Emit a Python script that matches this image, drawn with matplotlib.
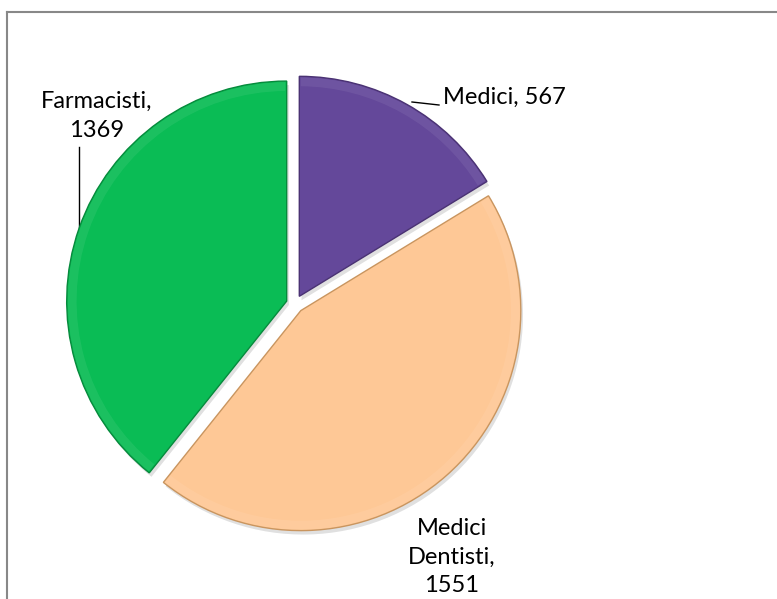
import numpy as np
import matplotlib.pyplot as plt
from matplotlib.patches import Wedge
from matplotlib.lines import Line2D

# dati
categorie = ["Medici", "Medici\nDentisti", "Farmacisti"]
valori = [567, 1551, 1369]
colori = ["#64489A", "#FEC896", "#0ABC55"]
bordi = ["#4A3273", "#C9955F", "#068A3C"]

plt.rcParams['font.family'] = ['Lato', 'DejaVu Sans']

W, H = 777, 599
cx, cy, R = 295, 304, 220   # centro e raggio della torta in pixel


def px(x, y):
    # pixel (origine in alto a sinistra) -> coordinate dati (raggio = 1)
    return (x - cx) / R, (cy - y) / R


fig = plt.figure(figsize=(W / 100, H / 100), dpi=100)
ax = fig.add_axes([0, 0, 1, 1])

wedges, _ = ax.pie(valori, startangle=90, counterclock=False,
                   explode=[0.04] * 3, colors=colori, radius=1,
                   wedgeprops=dict(linewidth=1.0))
for w, e in zip(wedges, bordi):
    w.set_edgecolor(e)
    w.set_zorder(3)
    # ombra
    ombra = Wedge((w.center[0] + 0.01, w.center[1] - 0.018), w.r,
                  w.theta1, w.theta2, facecolor="#000000", alpha=0.12,
                  linewidth=0, zorder=2)
    ax.add_patch(ombra)
    # leggero effetto smussato sul bordo
    inner = Wedge(w.center, w.r * 0.995, w.theta1 + 0.4, w.theta2 - 0.4,
                  width=w.r * 0.04, facecolor="white", alpha=0.07,
                  linewidth=0, zorder=4)
    ax.add_patch(inner)

ax.set_xlim(-cx / R, (W - cx) / R)
ax.set_ylim((cy - H) / R, cy / R)
ax.set_aspect("auto")
ax.axis("off")

fs = 17
ls = 1.45
# etichette
ax.text(*px(443, 97), f"{categorie[0]}, {valori[0]}", fontsize=fs,
        ha="left", va="center")
ax.plot(*zip(px(412, 102), px(439, 105)), color="black", lw=1)

ax.text(*px(97, 116), f"{categorie[2]},\n{valori[2]}", fontsize=fs,
        ha="center", va="center", linespacing=ls)
ax.plot(*zip(px(79, 147), px(79, 229)), color="black", lw=1)

ax.text(*px(452, 557), f"{categorie[1]},\n{valori[1]}", fontsize=fs,
        ha="center", va="center", linespacing=ls)

# cornice
fig.add_artist(Line2D([7 / W, 1], [1 - 12 / H, 1 - 12 / H],
                      color="#888888", lw=1.5))
fig.add_artist(Line2D([7 / W, 7 / W], [0, 1 - 12 / H],
                      color="#888888", lw=1.5))

fig.savefig("out.png", dpi=100)
